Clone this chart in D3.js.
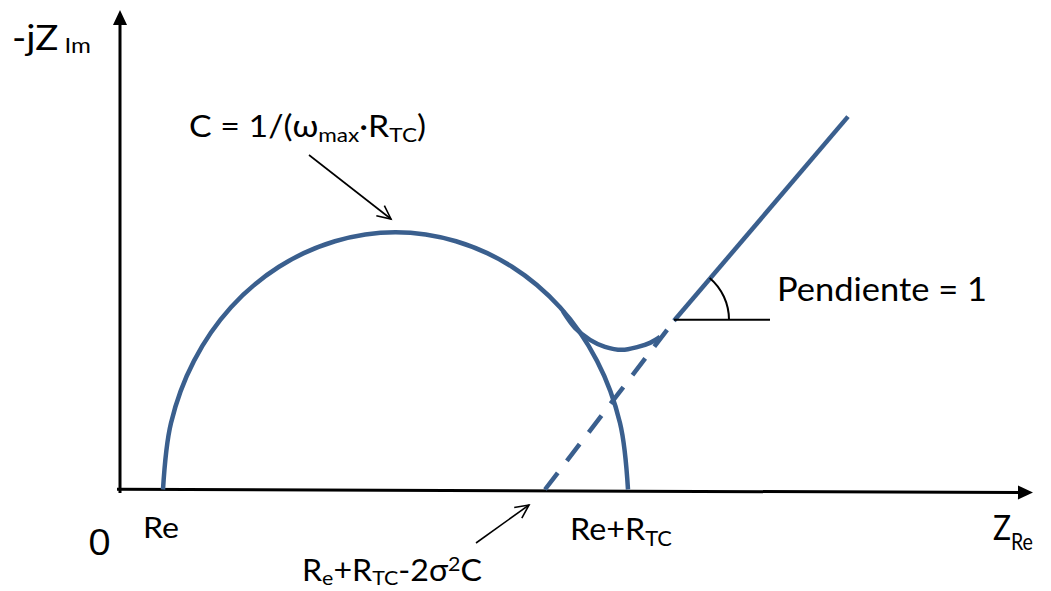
<!DOCTYPE html>
<html>
<head>
<meta charset="utf-8">
<script src="https://cdn.jsdelivr.net/npm/d3@7"></script>
<style>
  html, body { margin: 0; padding: 0; background: #fff; }
  svg { display: block; }
  text { font-family: Lato, "Open Sans", sans-serif; fill: #000; }
</style>
</head>
<body>
<div id="chart"></div>
<script>
// Nyquist diagram of a Randles cell: charge-transfer semicircle plus Warburg tail.
// Values in arbitrary impedance units (Z_Re, -jZ_Im).

// charge-transfer semicircle
const arcRe = [4.3, 5.1, 7.4, 11.1, 15.9, 21.5, 27.55, 33.6, 39.2, 44.0, 47.7, 50.0, 50.8];
const arcIm = [0, 6.65, 12.85, 18.2, 22.25, 24.8, 25.7, 24.8, 22.25, 18.2, 12.85, 6.65, 0];

// measured curve leaving the semicircle and joining the diffusion line
const dipRe = [44.3, 45.5, 47.0, 48.5, 50.2, 51.8, 53.0, 54.0];
const dipIm = [17.8, 16.15, 14.95, 14.25, 13.95, 14.25, 14.65, 15.25];

// Warburg line: extrapolated (dashed) part and measured (solid) part
const warburgDashRe = [42.5, 55.4];
const warburgDashIm = [0, 16.85];
const warburgRe = [55.4, 72.8];
const warburgIm = [16.85, 37.25];

// horizontal reference for the unit slope
const slopeRefRe = [55.4, 65.0];
const slopeRefIm = [16.95, 16.95];

// axis extents
const axisRe = [-0.3, 91.3];
const axisIm = [-0.35, 47.9];

const W = 1051, H = 591;
const svg = d3.select("#chart").append("svg")
  .attr("width", W).attr("height", H)
  .attr("viewBox", `0 0 ${W} ${H}`);

const x = d3.scaleLinear().domain([0, 91.3]).range([120, 1033]);
const y = d3.scaleLinear().domain([0, 47.9]).range([489.5, 10]);

const blue = "#3A5F8E";
const pts = (xs, ys) => xs.map((v, i) => [x(v), y(ys[i])]);
const smooth = d3.line().curve(d3.curveCatmullRom.alpha(0.5));
const straight = d3.line();

// ---- axes ----
function arrowHead(tip, dir, len, half) {
  const [dx, dy] = dir;
  const bx = tip[0] - dx * len, by = tip[1] - dy * len;
  const px = -dy, py = dx;
  return [[tip[0], tip[1]], [bx + px * half, by + py * half], [bx - px * half, by - py * half]];
}
// vertical axis
const yTop = [x(0), y(axisIm[1])];
svg.append("path")
  .attr("d", straight([[x(0), y(axisIm[0])], [x(0), y(axisIm[1]) + 12]]))
  .attr("stroke", "#000").attr("stroke-width", 3).attr("fill", "none");
svg.append("path")
  .attr("d", straight(arrowHead(yTop, [0, -1], 15, 7)) + "Z")
  .attr("fill", "#000");
// horizontal axis (slightly tilted as drawn)
const xStart = [x(axisRe[0]), 489.3];
const xTip = [x(axisRe[1]), 492.6];
const len = Math.hypot(xTip[0] - xStart[0], xTip[1] - xStart[1]);
const dirX = [(xTip[0] - xStart[0]) / len, (xTip[1] - xStart[1]) / len];
svg.append("path")
  .attr("d", straight([xStart, [xTip[0] - dirX[0] * 12, xTip[1] - dirX[1] * 12]]))
  .attr("stroke", "#000").attr("stroke-width", 3).attr("fill", "none");
svg.append("path")
  .attr("d", straight(arrowHead(xTip, dirX, 15, 7)) + "Z")
  .attr("fill", "#000");

// ---- impedance curves ----
svg.append("path")
  .attr("d", smooth(pts(arcRe, arcIm)))
  .attr("fill", "none").attr("stroke", blue).attr("stroke-width", 4.5);

svg.append("path")
  .attr("d", smooth(pts(dipRe, dipIm)))
  .attr("fill", "none").attr("stroke", blue).attr("stroke-width", 4.5);

svg.append("path")
  .attr("d", straight(pts(warburgDashRe, warburgDashIm)))
  .attr("fill", "none").attr("stroke", blue).attr("stroke-width", 4.5)
  .attr("stroke-dasharray", "21 15");

svg.append("path")
  .attr("d", straight(pts(warburgRe, warburgIm)))
  .attr("fill", "none").attr("stroke", blue).attr("stroke-width", 4.5);

// ---- slope indicator ----
const ref = pts(slopeRefRe, slopeRefIm);
svg.append("path")
  .attr("d", straight(ref))
  .attr("stroke", "#000").attr("stroke-width", 2).attr("fill", "none");
const wb = pts(warburgRe, warburgIm);
const ang = Math.atan2(wb[1][1] - wb[0][1], wb[1][0] - wb[0][0]);
const ap = d3.path();
ap.arc(ref[0][0], ref[0][1], 55, 0, ang, true);
svg.append("path").attr("d", ap.toString())
  .attr("stroke", "#000").attr("stroke-width", 2).attr("fill", "none");

// ---- annotation arrows ----
function openArrow(from, to) {
  const g = svg.append("g").attr("stroke", "#000").attr("stroke-width", 1.6).attr("fill", "none");
  g.append("path").attr("d", straight([from, to]));
  const a = Math.atan2(to[1] - from[1], to[0] - from[0]);
  const L = 15, spread = 0.45;
  g.append("path").attr("d", straight([
    [to[0] - L * Math.cos(a - spread), to[1] - L * Math.sin(a - spread)],
    to,
    [to[0] - L * Math.cos(a + spread), to[1] - L * Math.sin(a + spread)]
  ]));
}
openArrow([309, 155], [391, 219]);
openArrow([476, 543], [529, 505]);

// ---- labels ----
function rich(parts, x0, base, width, family) {
  const t = svg.append("text").attr("x", x0).attr("y", base);
  if (family) t.style("font-family", family);
  let shift = 0;
  parts.forEach(p => {
    const s = t.append("tspan").text(p.t).attr("font-size", p.size);
    const target = p.dy || 0;
    if (target !== shift) { s.attr("dy", target - shift); shift = target; }
  });
  if (width) t.attr("textLength", width).attr("lengthAdjust", "spacingAndGlyphs");
  return t;
}

rich([{ t: "-jZ", size: 35 }, { t: " Im", size: 22, dy: 3 }], 12, 50, 79);
rich([{ t: "C = 1/(ω", size: 30 }, { t: "max", size: 20, dy: 5 }, { t: "·R", size: 30 },
      { t: "TC", size: 20, dy: 5 }, { t: ")", size: 30 }], 189, 137, 237);
rich([{ t: "Pendiente = 1", size: 32 }], 777, 301, 210);
rich([{ t: "0", size: 36 }], 88, 555, 23, "'Open Sans', sans-serif");
rich([{ t: "Re", size: 29 }], 143, 538, 36);
rich([{ t: "Re+R", size: 31 }, { t: "TC", size: 21, dy: 6 }], 570, 540, 102);
rich([{ t: "Z", size: 35 }, { t: "Re", size: 23, dy: 10 }], 993, 540, 40);
rich([{ t: "R", size: 30 }, { t: "e", size: 20, dy: 4 }, { t: "+R", size: 30 },
      { t: "TC", size: 20, dy: 4 }, { t: "-2σ", size: 30 }, { t: "2", size: 20, dy: -10 },
      { t: "C", size: 30 }], 302, 581, 180);
</script>
</body>
</html>
